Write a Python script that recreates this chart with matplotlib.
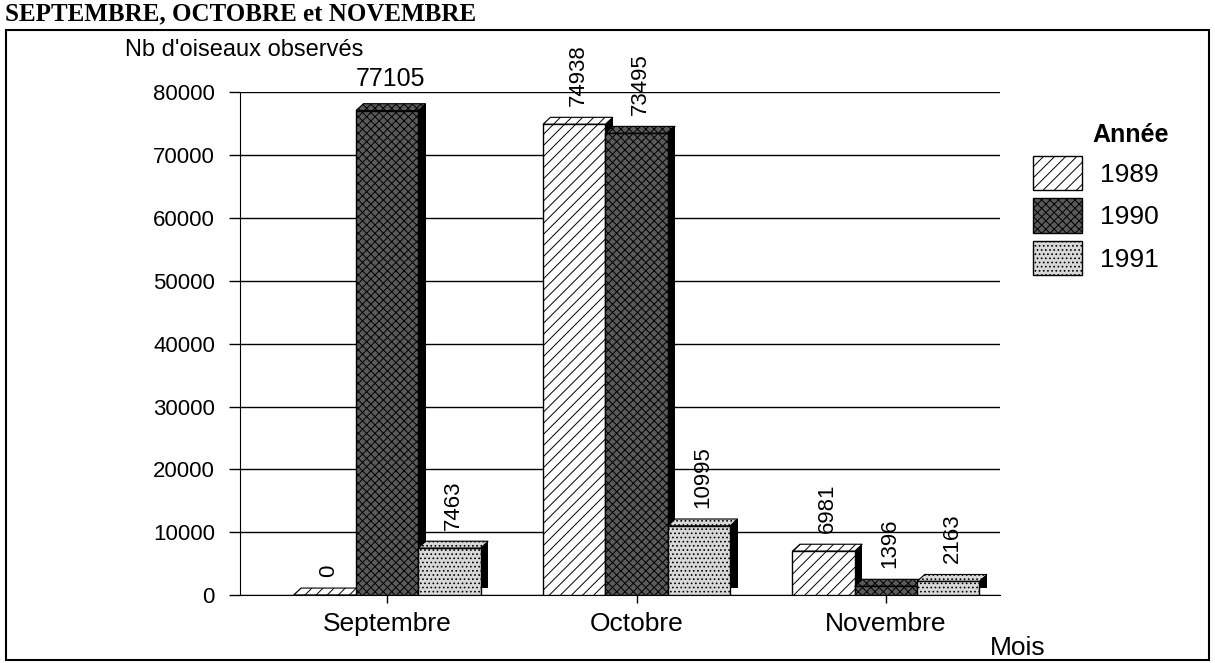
import numpy as np
import matplotlib.pyplot as plt
import matplotlib.patches as mpatches

months = ['Septembre', 'Octobre', 'Novembre']
years = ['1989', '1990', '1991']
counts_1989 = [0, 74938, 6981]
counts_1990 = [77105, 73495, 1396]
counts_1991 = [7463, 10995, 2163]
yticks = [0, 10000, 20000, 30000, 40000, 50000, 60000, 70000, 80000]

plt.rcParams['font.family'] = ['Liberation Sans', 'DejaVu Sans']
plt.rcParams['hatch.linewidth'] = 0.7

fig = plt.figure(figsize=(12.15, 6.63), dpi=100)
ax = fig.add_axes([0.1975, 0.1026, 0.6255, 0.758])

series = [counts_1989, counts_1990, counts_1991]
styles = [dict(facecolor='white', hatch='///'),
          dict(facecolor='#5a5a5a', hatch='xxxx'),
          dict(facecolor='#d8d8d8', hatch='....')]

x = np.arange(len(months))
w = 0.25
dx, dy = 0.03, 1100  # fake 3D depth

for i, (vals, st) in enumerate(zip(series, styles)):
    xs = x + (i - 1) * w
    # black side face
    ax.bar(xs + dx, vals, width=w, bottom=dy, color='black', zorder=2 + 2 * i)
    # top face
    for xc, v in zip(xs, vals):
        ax.fill([xc - w / 2, xc - w / 2 + dx, xc + w / 2 + dx, xc + w / 2],
                [v, v + dy, v + dy, v], edgecolor='black', linewidth=0.8,
                zorder=2 + 2 * i, **st)
    # front face
    ax.bar(xs, vals, width=w, edgecolor='black', linewidth=1, zorder=3 + 2 * i, **st)
    for j, (xc, v) in enumerate(zip(xs, vals)):
        if i == 1 and j == 0:
            ax.annotate(f'{v}', xy=(xc + dx / 2, v + dy), xytext=(0, 9),
                        textcoords='offset points', ha='center', va='bottom',
                        fontsize=18, annotation_clip=False)
        else:
            ax.annotate(f'{v}', xy=(xc + dx / 2, v + dy), xytext=(0, 8),
                        textcoords='offset points', ha='center', va='bottom',
                        rotation=90, fontsize=16, annotation_clip=False)

ax.set_xlim(-0.59, 2.457)
ax.set_ylim(0, 80000)
ax.set_yticks(yticks)
ax.set_yticklabels([str(t) for t in yticks], fontsize=16)
ax.set_xticks(x)
ax.set_xticklabels(months, fontsize=19)
ax.tick_params(axis='y', length=8, width=1, pad=10)
ax.tick_params(axis='x', length=6, width=1, pad=6)
ax.yaxis.grid(True, color='black', linewidth=1)
ax.set_axisbelow(True)
ax.spines['top'].set_visible(False)
ax.spines['right'].set_visible(False)

fig.text(125 / 1215, 1 - 50 / 663, "Nb d'oiseaux observés", fontsize=17, va='center')
fig.text(990 / 1215, 1 - 648 / 663, 'Mois', fontsize=19, va='center')
fig.text(0.004, 1 - 20 / 663, 'SEPTEMBRE, OCTOBRE et NOVEMBRE',
         family='Liberation Serif', weight='bold', fontsize=18, va='baseline')

fig.add_artist(mpatches.Rectangle((0.005, 0.004), 0.99, 0.951, transform=fig.transFigure,
                                  fill=False, linewidth=1.5, edgecolor='black'))

fig.text(1092 / 1215, 1 - 135 / 663, 'Année', fontsize=18, weight='bold', va='center')
handles = [mpatches.Patch(edgecolor='black', **st) for st in styles]
fig.legend(handles, years, loc='upper left',
           bbox_to_anchor=(1033 / 1215, 1 - 156 / 663), frameon=False,
           borderpad=0, borderaxespad=0,
           fontsize=19, handlelength=1.85, handleheight=1.63,
           labelspacing=0.3, handletextpad=0.7)

fig.savefig('out.png', dpi=100)
